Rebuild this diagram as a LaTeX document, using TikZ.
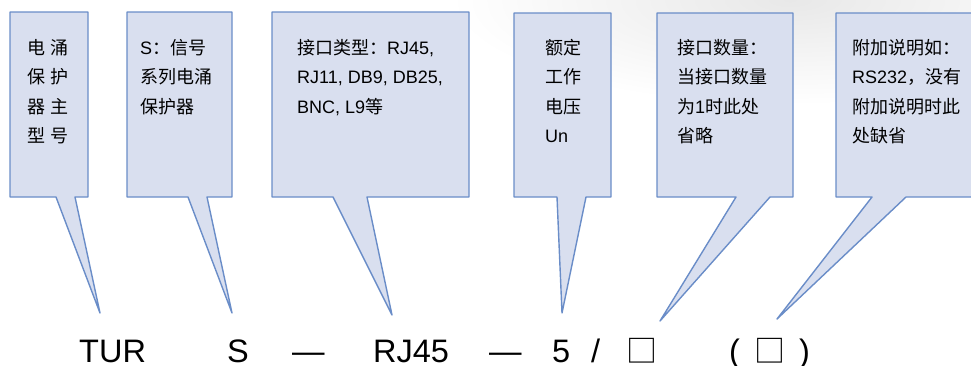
\documentclass[tikz,border=0pt]{standalone}
\usepackage{fontspec}
\setmainfont{Liberation Sans}
\newfontfamily\cjk{Noto Sans CJK SC}
\newfontfamily\lat{Liberation Sans}
\definecolor{calfill}{HTML}{D9DFEF}
\definecolor{caledge}{HTML}{6A8DC8}
\newcommand\mystrut{\rule{0pt}{16pt}}
\begin{document}
\begin{tikzpicture}[x=1pt,y=-1pt,
  callout/.style={fill=calfill, draw=caledge, line width=1.4pt, line join=round},
  boxtext/.style={anchor=north west, inner sep=0pt, align=left,
    font=\cjk\fontsize{18pt}{29.5pt}\selectfont},
  code/.style={anchor=base west, inner sep=0pt, text depth=0pt, font=\lat\fontsize{32.5pt}{40pt}\selectfont}]
\useasboundingbox (0,0) rectangle (971,365);
\clip (0,0) rectangle (971,365);
% faint background
\shade[inner color=black!9, outer color=white] (790,0) ellipse [x radius=340, y radius=105];
% callouts
\draw[callout] (10,12) -- (88,12) -- (88,197) -- (75,197) -- (100,313) -- (56,197) -- (10,197) -- cycle;
\draw[callout] (127,12) -- (232,12) -- (232,197) -- (207,197) -- (232,313) -- (188,197) -- (127,197) -- cycle;
\draw[callout] (272,12) -- (469,12) -- (469,197) -- (367,197) -- (392,315) -- (333,197) -- (272,197) -- cycle;
\draw[callout] (514,13) -- (611,13) -- (611,197) -- (586,197) -- (562,313) -- (557,197) -- (514,197) -- cycle;
\draw[callout] (657,13) -- (793,13) -- (793,197) -- (770,197) -- (660,321) -- (736,197) -- (657,197) -- cycle;
\draw[callout] (836,13) -- (995,13) -- (995,197) -- (906,197) -- (777,319) -- (872,197) -- (836,197) -- cycle;
% callout texts
\node[boxtext] (t1) at (27,38) {\mystrut 电\hspace{5pt}涌\\保\hspace{5pt}护\\器\hspace{5pt}主\\型\hspace{5pt}号};
\node[boxtext] (t2) at (140,38) {\mystrut{\lat S}：信号\\系列电涌\\保护器};
\node[boxtext] (t3) at (297,38) {\mystrut 接口类型：{\lat RJ45,}\\{\lat RJ11, DB9, DB25,}\\{\lat BNC, L9}等};
\node[boxtext] (t4) at (545,38) {\mystrut 额定\\工作\\电压\\{\lat Un}};
\node[boxtext] (t5) at (677,38) {\mystrut 接口数量：\\当接口数量\\为{\lat 1}时此处\\省略};
\node[boxtext] (t6) at (852,38) {\mystrut 附加说明如：\\{\lat RS232}，没有\\附加说明时此\\处缺省};
% model code
\node[code] (tur) at (79,362) {TUR};
\node[code] (s) at (227,362) {S};
\node[code] (d1) at (292,362) {—};
\node[code] (rj) at (373,362) {RJ45};
\node[code] (d2) at (489,362) {—};
\node[code] (five) at (552,362) {5};
\node[code] (slash) at (591,362) {/};
\node[code, font=\cjk\fontsize{31pt}{40pt}\selectfont] (sq1) at (626,362) {□};
\node[code] (lp) at (729,362) {(};
\node[code, font=\cjk\fontsize{31pt}{40pt}\selectfont] (sq2) at (754,362) {□};
\node[code] (rp) at (799,362) {)};
\end{tikzpicture}
\end{document}
